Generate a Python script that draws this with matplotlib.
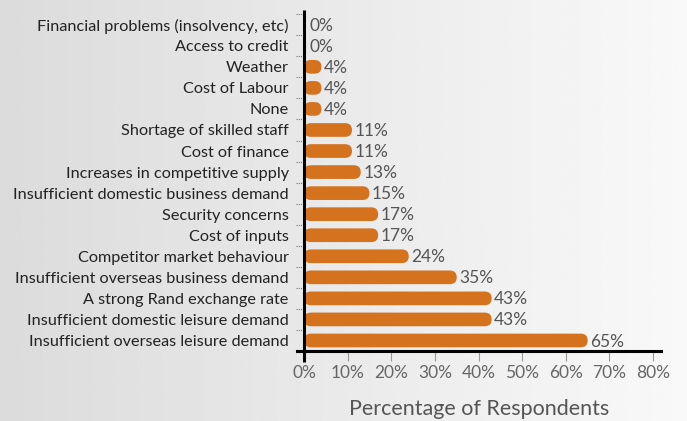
import numpy as np
import matplotlib
matplotlib.use("Agg")
from matplotlib import pyplot as plt
from matplotlib.patches import FancyBboxPatch
from matplotlib import transforms

# survey answers, top of the list first
categories = [
    "Financial problems (insolvency, etc)",
    "Access to credit",
    "Weather",
    "Cost of Labour",
    "None",
    "Shortage of skilled staff",
    "Cost of finance",
    "Increases in competitive supply",
    "Insufficient domestic business demand",
    "Security concerns",
    "Cost of inputs",
    "Competitor market behaviour",
    "Insufficient overseas business demand",
    "A strong Rand exchange rate",
    "Insufficient domestic leisure demand",
    "Insufficient overseas leisure demand",
]
percent = [0, 0, 4, 4, 4, 11, 11, 13, 15, 17, 17, 24, 35, 43, 43, 65]
x_ticks = [0, 10, 20, 30, 40, 50, 60, 70, 80]

bar_color = "#d5721e"
plt.rcParams["font.family"] = ["Lato", "DejaVu Sans"]

W, H, DPI = 687, 421, 100
fig = plt.figure(figsize=(W / DPI, H / DPI), dpi=DPI)

# grey left-to-right gradient behind everything
bg = fig.add_axes([0, 0, 1, 1], zorder=-10)
grad = np.linspace(0.86, 0.975, 256).reshape(1, -1)
bg.imshow(grad, aspect="auto", cmap="gray", vmin=0, vmax=1, extent=[0, 1, 0, 1])
bg.axis("off")

# axes box in pixels
left, right, top, bottom = 297, 661, 10, 351
ax = fig.add_axes([left / W, (H - bottom) / H, (right - left) / W, (bottom - top) / H])
ax.patch.set_alpha(0)

xmin, xmax = -1.6, 81.8
ymin, ymax = 15.5, -0.7
ax.set_xlim(xmin, xmax)
ax.set_ylim(ymin, ymax)

# rounded bars: work out aspect so the caps come out round on screen
sx = (xmax - xmin) / (right - left)
sy = abs(ymin - ymax) / (bottom - top)
bar_h = 0.65
r = bar_h / sy / 2 * sx
for i, v in enumerate(percent):
    if v > 0:
        p = FancyBboxPatch((0, i - bar_h / 2), v, bar_h,
                           boxstyle=f"round,pad=0,rounding_size={r}",
                           mutation_aspect=sy / sx,
                           fc=bar_color, ec="none", zorder=2)
        ax.add_patch(p)
    ax.text(v + 0.6 if v else 1.2, i + 0.05, f"{v}%", va="center", ha="left",
            fontsize=12.5, color="#555555")

# axis lines
for s in ["top", "right", "left"]:
    ax.spines[s].set_visible(False)
ax.spines["bottom"].set_linewidth(2.2)
ax.spines["bottom"].set_color("black")
ax.plot([0, 0], [16.0, ymax], color="black", lw=2.2, solid_capstyle="butt",
        clip_on=False, zorder=5)

# dotted marks between the categories
blend = transforms.blended_transform_factory(ax.transAxes, ax.transData)
for b in np.arange(-0.5, 15.0, 1.0):
    ax.plot([-0.002, 0.018], [b, b], transform=blend, ls=(0, (1, 1)),
            color="#777777", lw=0.8, clip_on=False)

ax.set_yticks(range(len(categories)))
ax.set_yticklabels(categories, fontsize=11.7, color="#222222")
ax.tick_params(axis="y", length=0, pad=6)

ax.set_xticks(x_ticks)
ax.set_xticklabels([f"{t}%" for t in x_ticks], fontsize=12.5, color="#666666")
ax.tick_params(axis="x", length=7, width=0.8, color="#999999", pad=3)

ax.set_xlabel("Percentage of Respondents", fontsize=15.5, color="#555555", labelpad=13)

fig.savefig("out.png", dpi=DPI)
